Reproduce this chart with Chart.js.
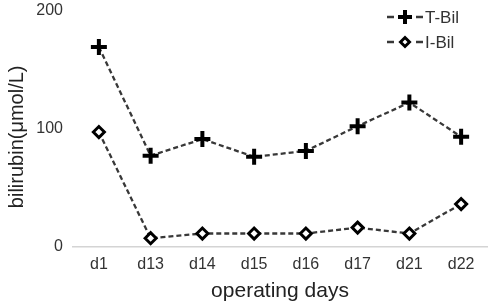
<!DOCTYPE html>
<html>
<head>
<meta charset="utf-8">
<script src="https://cdn.jsdelivr.net/npm/chart.js@4/dist/chart.umd.min.js"></script>
<style>
  html, body { margin: 0; padding: 0; background: #fff; }
</style>
</head>
<body>
<canvas id="myChart" width="489" height="306"></canvas>
<script>
// data
const days = ['d1', 'd13', 'd14', 'd15', 'd16', 'd17', 'd21', 'd22'];
const tBil = [169, 77, 91, 76, 81, 102, 122, 93];
const iBil = [97, 7, 11, 11, 11, 16, 11, 36];
const yTicks = [0, 100, 200];

Chart.defaults.font.family = '"Liberation Sans", Arial, sans-serif';
Chart.defaults.color = '#333';

// legend like the original: short dash, marker, short dash, then the label
const lineLegend = {
  id: 'lineLegend',
  afterDraw(chart) {
    const ctx = chart.ctx;
    const x0 = chart.chartArea.right - 100;
    chart.data.datasets.forEach((ds, i) => {
      const y = 17 + i * 25;
      ctx.save();
      ctx.strokeStyle = ds.borderColor;
      ctx.lineWidth = ds.borderWidth;
      ctx.beginPath();
      ctx.moveTo(x0, y); ctx.lineTo(x0 + 7, y);
      ctx.moveTo(x0 + 29, y); ctx.lineTo(x0 + 36, y);
      ctx.stroke();
      ctx.fillStyle = ds.pointBackgroundColor;
      ctx.strokeStyle = ds.pointBorderColor;
      ctx.lineWidth = ds.pointBorderWidth;
      Chart.helpers.drawPoint(ctx, {
        pointStyle: ds.pointStyle,
        radius: ds.pointRadius - 1,
        borderWidth: ds.pointBorderWidth,
        rotation: 0
      }, x0 + 18, y);
      ctx.fillStyle = '#333';
      ctx.font = '17px "Liberation Sans", Arial, sans-serif';
      ctx.textBaseline = 'middle';
      ctx.fillText(ds.label, x0 + 38, y + 1);
      ctx.restore();
    });
  }
};

new Chart(document.getElementById('myChart'), {
  type: 'line',
  data: {
    labels: days,
    datasets: [{
      label: 'T-Bil',
      data: tBil,
      borderColor: '#383838',
      borderWidth: 2.3,
      borderDash: [5, 3],
      pointStyle: 'cross',
      pointRadius: 8,
      pointBorderWidth: 4,
      pointBorderColor: '#000',
      pointBackgroundColor: '#000',
      tension: 0
    }, {
      label: 'I-Bil',
      data: iBil,
      borderColor: '#383838',
      borderWidth: 2.3,
      borderDash: [5, 3],
      pointStyle: 'rectRot',
      pointRadius: 5.5,
      pointBorderWidth: 3,
      pointBorderColor: '#000',
      pointBackgroundColor: '#fff',
      tension: 0
    }]
  },
  options: {
    responsive: false,
    animation: false,
    layout: { autoPadding: false, padding: { top: 10.5, right: 2, left: 0, bottom: 0 } },
    plugins: {
      legend: { display: false },
      tooltip: { enabled: false }
    },
    scales: {
      x: {
        offset: true,
        grid: { display: false, drawTicks: false },
        border: { display: true, color: '#d4d4d4', width: 1.5 },
        ticks: { padding: 8, color: '#333', font: { size: 16 } },
        title: {
          display: true,
          text: 'operating days',
          color: '#222',
          font: { size: 21 },
          padding: { top: 0, bottom: 2 }
        },
        afterFit(scale) {
          scale.height = 59.5;
          scale.paddingLeft = 0;
          scale.paddingRight = 0;
        }
      },
      y: {
        min: 0,
        max: 200,
        afterBuildTicks(scale) { scale.ticks = yTicks.map(v => ({ value: v })); },
        ticks: { padding: 10, color: '#333', font: { size: 16 } },
        grid: { display: false, drawTicks: false },
        border: { display: false },
        title: {
          display: true,
          text: 'bilirubin(μmol/L)   ',
          color: '#222',
          font: { size: 20 },
          padding: { top: 5, bottom: 0 }
        },
        afterFit(scale) {
          scale.width = 73;
          scale.paddingTop = 0;
          scale.paddingBottom = 0;
        }
      }
    }
  },
  plugins: [lineLegend]
});
</script>
</body>
</html>
